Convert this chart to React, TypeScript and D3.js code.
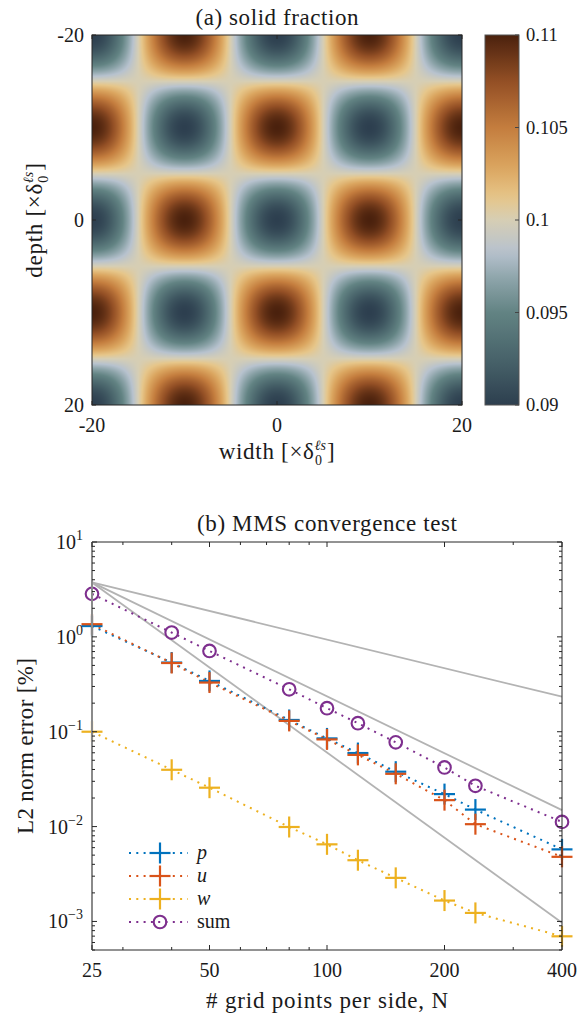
import React, { useMemo } from "react";
import * as d3 from "d3";

// ---------- data: panel (a) ----------
const fieldMean = [0.1];
const fieldAmp = [0.01];
const fieldWavelength = [20];
const domainX = [-20, 20];
const domainY = [-20, 20];
const heatTicks = [-20, 0, 20];
const cbarTicks = [0.09, 0.095, 0.1, 0.105, 0.11];
const cbarTickLabels = ["0.09", "0.095", "0.1", "0.105", "0.11"];
const cmapStops = [0.09, 0.0925, 0.095, 0.0967, 0.0983, 0.1, 0.1012, 0.1028, 0.105, 0.1075, 0.11];
const cmapColors = ["#2d3f4f", "#48636a", "#628383", "#8aa2a7", "#b7c2ce", "#d6ceb4", "#e6c68a", "#dba660", "#c47d3e", "#934f25", "#4a210d"];

// ---------- data: panel (b) ----------
const gridN = [25, 40, 50, 80, 100, 120, 150, 200, 240, 400];
const errP = [1.3, 0.536, 0.343, 0.133, 0.085, 0.0596, 0.0379, 0.022, 0.0151, 0.00575];
const errU = [1.36, 0.53, 0.33, 0.13, 0.083, 0.057, 0.036, 0.019, 0.0106, 0.0048];
const errW = [0.1, 0.0397, 0.0257, 0.0099, 0.0065, 0.00442, 0.00288, 0.00166, 0.00123, 0.000697];
const errSum = [2.84, 1.11, 0.71, 0.28, 0.177, 0.123, 0.0773, 0.042, 0.0269, 0.0112];
const refN = [25, 400];
const ref1 = [3.75, 0.234];
const ref2 = [3.75, 0.0149];
const ref3 = [3.75, 0.00097];
const xMajor = [25, 50, 100, 200, 400];
const xMinor = [30, 40, 60, 70, 80, 90, 300];
const yMajorExp = [1, 0, -1, -2, -3];
const seriesNames = ["p", "u", "w", "sum"];
const seriesColors = ["#0072BD", "#D95319", "#EDB120", "#7E2F8E"];

const FONT = "'Liberation Serif', 'Times New Roman', serif";

function Cross({ x, y, color, s = 10.5 }: { x: number; y: number; color: string; s?: number }) {
  return (
    <g stroke={color} strokeWidth={2.2}>
      <line x1={x - s} x2={x + s} y1={y} y2={y} />
      <line x1={x} x2={x} y1={y - s} y2={y + s} />
    </g>
  );
}

export default function App() {
  const W = 579;
  const H = 1016;

  // panel (a)
  const hL = 92, hR = 462, hT = 35, hB = 405;
  const hx = d3.scaleLinear().domain(domainX).range([hL, hR]);
  const hy = d3.scaleLinear().domain(domainY).range([hT, hB]);
  const cScale = d3
    .scaleLinear<string>()
    .domain(cmapStops)
    .range(cmapColors)
    .interpolate(d3.interpolateRgb)
    .clamp(true);
  const cbL = 485, cbR = 519;
  const cbY = d3.scaleLinear().domain([0.09, 0.11]).range([hB, hT]);

  const heatUrl = useMemo(() => {
    const n = 370;
    const canvas = document.createElement("canvas");
    canvas.width = n;
    canvas.height = n;
    const ctx = canvas.getContext("2d");
    if (!ctx) return "";
    const img = ctx.createImageData(n, n);
    const k = (2 * Math.PI) / fieldWavelength[0];
    for (let j = 0; j < n; j++) {
      const yv = hy.invert(hT + ((j + 0.5) / n) * (hB - hT));
      for (let i = 0; i < n; i++) {
        const xv = hx.invert(hL + ((i + 0.5) / n) * (hR - hL));
        const v = fieldMean[0] - fieldAmp[0] * Math.cos(k * xv) * Math.cos(k * yv);
        const c = d3.rgb(cScale(v));
        const o = (j * n + i) * 4;
        img.data[o] = c.r;
        img.data[o + 1] = c.g;
        img.data[o + 2] = c.b;
        img.data[o + 3] = 255;
      }
    }
    ctx.putImageData(img, 0, 0);
    return canvas.toDataURL();
  }, []);

  const gradStops = d3.range(0, 41).map((i) => {
    const v = 0.09 + (0.02 * i) / 40;
    return { off: i / 40, color: cScale(v) };
  });

  // panel (b)
  const bL = 92, bR = 562, bT = 542, bB = 950;
  const bx = d3.scaleLog().domain([25, 400]).range([bL, bR]);
  const by = d3.scaleLog().domain([5e-4, 10]).range([bB, bT]);
  const line = d3
    .line<[number, number]>()
    .x((d) => bx(d[0]))
    .y((d) => by(d[1]));
  const seriesVals = [errP, errU, errW, errSum];
  const refs = [ref1, ref2, ref3];

  const yMinor: number[] = [];
  for (let e = -4; e <= 0; e++) {
    for (let m = 2; m <= 9; m++) {
      const v = m * Math.pow(10, e);
      if (v >= 5e-4 && v <= 10) yMinor.push(v);
    }
  }

  const axisColor = "#262626";
  const legendRows = [853, 876, 899, 922];
  const txt = "#1a1a1a";

  return (
    <svg width={W} height={H} style={{ display: "block", position: "absolute", left: 0, top: 0 }} fontFamily={FONT}>
      <rect x={0} y={0} width={W} height={H} fill="#fff" />

      {/* ---------------- panel (a) ---------------- */}
      <text x={(hL + hR) / 2} y={25} textAnchor="middle" fontSize={23} fill={txt} textLength={163} lengthAdjust="spacing">
        (a) solid fraction
      </text>
      <image href={heatUrl} x={hL} y={hT} width={hR - hL} height={hB - hT} preserveAspectRatio="none" />
      <rect x={hL} y={hT} width={hR - hL} height={hB - hT} fill="none" stroke={axisColor} strokeWidth={1} />
      {heatTicks.map((t) => (
        <g key={"ht" + t} stroke={axisColor} strokeWidth={1}>
          <line x1={hx(t)} x2={hx(t)} y1={hB} y2={hB - 4} />
          <line x1={hx(t)} x2={hx(t)} y1={hT} y2={hT + 4} />
          <line x1={hL} x2={hL + 4} y1={hy(t)} y2={hy(t)} />
          <line x1={hR} x2={hR - 4} y1={hy(t)} y2={hy(t)} />
        </g>
      ))}
      {heatTicks.map((t) => (
        <text key={"hyl" + t} x={hL - 8} y={hy(t)} dy="0.35em" textAnchor="end" fontSize={20} fill={txt}>
          {String(t)}
        </text>
      ))}
      {heatTicks.map((t) => (
        <text key={"hxl" + t} x={hx(t)} y={432} textAnchor="middle" fontSize={20} fill={txt}>
          {String(t)}
        </text>
      ))}
      <text x={(hL + hR) / 2} y={459} textAnchor="middle" fontSize={23} fill={txt} letterSpacing={0.7}>
        width [×δ
        <tspan fontSize={14} fontStyle="italic" dy={-9} letterSpacing={0}>ℓs</tspan>
        <tspan fontSize={14} dx={-11} dy={15} letterSpacing={0}>0</tspan>
        <tspan dx={5} dy={-6}>]</tspan>
      </text>
      <text transform={`translate(42,${(hT + hB) / 2}) rotate(-90)`} textAnchor="middle" fontSize={23} fill={txt} letterSpacing={0.7}>
        depth [×δ
        <tspan fontSize={14} fontStyle="italic" dy={-9} letterSpacing={0}>ℓs</tspan>
        <tspan fontSize={14} dx={-11} dy={15} letterSpacing={0}>0</tspan>
        <tspan dx={5} dy={-6}>]</tspan>
      </text>

      {/* colorbar */}
      <defs>
        <linearGradient id="cbgrad" x1="0" y1="1" x2="0" y2="0">
          {gradStops.map((s, i) => (
            <stop key={i} offset={s.off} stopColor={s.color} />
          ))}
        </linearGradient>
      </defs>
      <rect x={cbL} y={hT} width={cbR - cbL} height={hB - hT} fill="url(#cbgrad)" stroke="#555" strokeWidth={1} />
      {cbarTicks.map((t, i) => (
        <g key={"cb" + t}>
          <line x1={cbR} x2={cbR - 4} y1={cbY(t)} y2={cbY(t)} stroke="#444" strokeWidth={1} />
          <text x={cbR + 7} y={cbY(t)} dy="0.35em" fontSize={18.5} fill={txt}>
            {cbarTickLabels[i]}
          </text>
        </g>
      ))}

      {/* ---------------- panel (b) ---------------- */}
      <text x={(bL + bR) / 2} y={531} textAnchor="middle" fontSize={23} fill={txt} textLength={260} lengthAdjust="spacing">
        (b) MMS convergence test
      </text>

      {/* reference slopes */}
      {refs.map((r, i) => (
        <path
          key={"ref" + i}
          d={line(refN.map((n, j) => [n, r[j]] as [number, number])) || ""}
          fill="none"
          stroke="#b3b3b3"
          strokeWidth={1.8}
        />
      ))}

      {/* series lines */}
      {seriesVals.map((vals, si) => (
        <path
          key={"sl" + si}
          d={line(gridN.map((n, j) => [n, vals[j]] as [number, number])) || ""}
          fill="none"
          stroke={seriesColors[si]}
          strokeWidth={2}
          strokeDasharray="2 5.3"
        />
      ))}
      {/* markers */}
      {seriesVals.map((vals, si) =>
        gridN.map((n, j) =>
          si < 3 ? (
            <Cross key={`m${si}-${j}`} x={bx(n)} y={by(vals[j])} color={seriesColors[si]} />
          ) : (
            <circle key={`m${si}-${j}`} cx={bx(n)} cy={by(vals[j])} r={6.3} fill="none" stroke={seriesColors[si]} strokeWidth={2.1} />
          )
        )
      )}

      {/* axes box */}
      <line x1={bL} x2={bR} y1={bT} y2={bT} stroke={axisColor} strokeWidth={1} />
      <line x1={bL} x2={bR} y1={bB} y2={bB} stroke={axisColor} strokeWidth={1} />
      <line x1={bR} x2={bR} y1={bT} y2={bB} stroke={axisColor} strokeWidth={1} />
      <line x1={bL} x2={bL} y1={bT} y2={bB} stroke="#8a8a8a" strokeWidth={2} />
      {xMajor.map((t) => (
        <g key={"xM" + t} stroke={axisColor} strokeWidth={1}>
          <line x1={bx(t)} x2={bx(t)} y1={bB} y2={bB - 5} />
          <line x1={bx(t)} x2={bx(t)} y1={bT} y2={bT + 5} />
        </g>
      ))}
      {xMinor.map((t) => (
        <g key={"xm" + t} stroke={axisColor} strokeWidth={1}>
          <line x1={bx(t)} x2={bx(t)} y1={bB} y2={bB - 3} />
          <line x1={bx(t)} x2={bx(t)} y1={bT} y2={bT + 3} />
        </g>
      ))}
      {yMajorExp.map((e) => (
        <g key={"yM" + e} stroke={axisColor} strokeWidth={1}>
          <line x1={bL} x2={bL + 5} y1={by(Math.pow(10, e))} y2={by(Math.pow(10, e))} />
          <line x1={bR} x2={bR - 5} y1={by(Math.pow(10, e))} y2={by(Math.pow(10, e))} />
        </g>
      ))}
      {yMinor.map((t, i) => (
        <g key={"ym" + i} stroke={axisColor} strokeWidth={1}>
          <line x1={bL} x2={bL + 3} y1={by(t)} y2={by(t)} />
          <line x1={bR} x2={bR - 3} y1={by(t)} y2={by(t)} />
        </g>
      ))}
      {xMajor.map((t) => (
        <text key={"xl" + t} x={bx(t)} y={977} textAnchor="middle" fontSize={20} fill={txt}>
          {String(t)}
        </text>
      ))}
      {yMajorExp.map((e) => (
        <text key={"yl" + e} x={bL - 9} y={by(Math.pow(10, e)) + 7} textAnchor="end" fontSize={20} fill={txt}>
          10
          <tspan fontSize={14} dy={-9}>{e < 0 ? "−" + Math.abs(e) : String(e)}</tspan>
        </text>
      ))}
      <text x={(bL + bR) / 2} y={1008} textAnchor="middle" fontSize={23} fill={txt} textLength={242} lengthAdjust="spacing">
        # grid points per side, N
      </text>
      <text transform={`translate(33,${(bT + bB) / 2}) rotate(-90)`} textAnchor="middle" fontSize={23} fill={txt} textLength={176} lengthAdjust="spacing">
        L2 norm error [%]
      </text>

      {/* legend */}
      {seriesNames.map((name, i) => (
        <g key={"lg" + name}>
          <line x1={129} x2={188} y1={legendRows[i]} y2={legendRows[i]} stroke={seriesColors[i]} strokeWidth={2} strokeDasharray="2 5.3" />
          {i < 3 ? (
            <Cross x={160} y={legendRows[i]} color={seriesColors[i]} />
          ) : (
            <circle cx={160} cy={legendRows[i]} r={6.3} fill="none" stroke={seriesColors[i]} strokeWidth={2.1} />
          )}
          <text x={197} y={legendRows[i]} dy="0.32em" fontSize={20} fill={txt} fontStyle={i < 3 ? "italic" : "normal"}>
            {name}
          </text>
        </g>
      ))}
    </svg>
  );
}
